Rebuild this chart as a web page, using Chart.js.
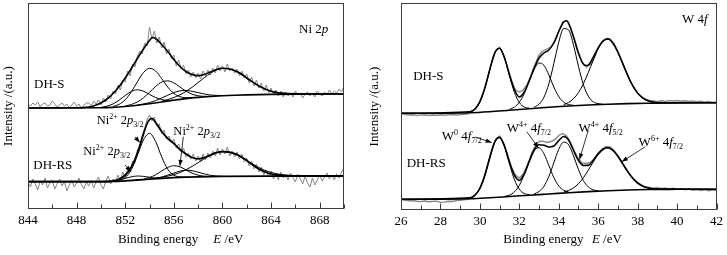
<!DOCTYPE html>
<html><head><meta charset="utf-8">
<script src="https://cdn.jsdelivr.net/npm/chart.js@4.4.1/dist/chart.umd.min.js"></script>
<style>
html,body{margin:0;padding:0;background:#fff;}
#p1{position:absolute;left:0;top:0;}
#p2{position:absolute;left:360px;top:0;}
</style></head><body>
<canvas id="p1" width="360" height="255"></canvas>
<canvas id="p2" width="367" height="255"></canvas>
<script>
const FONT = '"Liberation Serif", "Times New Roman", serif';

// ================= Ni 2p panel (x: binding energy / eV, y: intensity a.u.) =================
const niXMin = 844, niXMax = 870, niXStep = 4;
const niRawStart = 844, niRawStep = 0.2;
const niS_raw = [105,103,106,104,107,102,105,106,103,104,108,105,102,104,106,103,105,101,104,107,103,105,100,104,106,
 106,103,108,105,109,104,111,107,114,110,118,115,124,119,129,127,138,133,145,142,153,
 158,155,166,163,182,170,178,166,172,161,167,155,160,150,154,143,149,140,144,135,
 139,132,137,131,136,130,138,133,139,134,141,136,144,138,143,137,145,138,141,136,
 140,133,138,131,135,126,132,123,129,121,126,118,124,116,121,114,119,113,118,112,
 117,113,116,112,118,114,116,111,115,117,113,116,112,118,115,113,117,114,119,115,118,116,120,117,123];
const niRS_raw = [27,22,30,25,19,28,24,31,21,26,29,20,25,30,23,27,18,24,29,22,26,31,24,20,27,
 23,29,21,27,32,24,20,28,33,25,30,27,34,28,37,31,40,37,48,46,59,
 62,74,80,90,94,88,92,83,85,75,79,70,73,66,70,61,65,57,61,52,
 56,50,55,48,53,47,55,49,56,51,58,53,61,54,60,55,62,53,58,52,
 57,50,55,47,51,43,48,40,45,37,42,34,39,32,38,30,36,29,37,31,
 34,29,36,31,27,35,30,25,33,26,22,31,24,29,34,28,32,36,30,34,29,35,31,37,41];

const niS_base = [[844,101],[850,101.2],[851,101.6],[852,102.5],[853,103.8],[854,105.3],[855,107],[856,108.8],[857,110.4],[858,111.6],[859,112.5],[860,113.2],[861,113.7],[862,114.1],[864,114.6],[866,114.9],[870,115]];
const niS_env = [[844,101],[848,101.2],[849,102],[849.5,103.5],[850,106],[850.5,110],[851,115.5],[851.5,122.5],[852,131],[852.5,140.5],[853,150.5],[853.5,160],[854,168.5],[854.25,171.5],[854.5,170.5],[855,164.5],[855.5,157.5],[856,149.5],[856.5,142.5],[857,137.5],[857.5,134.5],[858,133.3],[858.5,134.5],[859,137],[859.5,139.5],[860,140.7],[860.5,140.3],[861,138.5],[861.5,135.5],[862,131],[862.5,126.8],[863,123],[863.5,120],[864,117.8],[864.5,116.4],[865,115.7],[866,115.2],[870,115]];
const niS_c1 = [[850,101.7],[850.5,102.8],[851,105.1],[851.5,108.9],[852,113.5],[852.5,117.5],[853,119.2],[853.5,117.8],[854,114.6],[854.5,111.4],[855,109.5],[855.5,108.6],[856,109]];
const niS_c2 = [[851,102.5],[851.5,104.7],[852,109.3],[852.5,117.1],[853,127.2],[853.5,136.4],[854,140.7],[854.5,138],[855,130.4],[855.5,121.9],[856,115.6],[856.5,112.3],[857,111.3],[857.5,111.3]];
const niS_c3 = [[852,103],[852.5,104.5],[853,107.1],[853.5,111.2],[854,116.7],[854.5,122.5],[855,126.9],[855.5,128.1],[856,126.1],[856.5,122],[857,117.9],[857.5,114.8],[858,113.2],[858.5,112.7],[859,112.7]];
const niS_c4 = [[853,104],[853.5,105],[854,106.4],[854.5,108.4],[855,111],[855.5,113.8],[856,116.4],[856.5,118.1],[857,118.5],[857.5,117.7],[858,116.4],[858.5,115],[859,114],[859.5,113.6],[860,113.5]];
const niS_c5 = [[855,107.7],[855.5,109.4],[856,111.5],[856.5,114.1],[857,117.6],[857.5,121.7],[858,126.5],[858.5,131.3],[859,135.7],[859.5,139],[860,140.6],[860.5,140.3],[861,138.2],[861.5,134.8],[862,130.7],[862.5,126.6],[863,123],[863.5,120.1],[864,117.9],[864.5,116.6],[865,115.8],[865.5,115.3],[866,115.1]];

const niRS_base = [[844,27.3],[850,27.4],[851,27.6],[852,28.2],[853,29],[854,29.9],[855,30.7],[856,31.3],[857,31.8],[858,32.2],[860,32.6],[864,32.9],[870,33]];
const niRS_env = [[844,27.3],[850,27.4],[851,28],[851.5,30],[852,34],[852.5,42],[853,56],[853.5,75],[853.75,84],[854,89.5],[854.2,90.7],[854.5,86.5],[855,77.5],[855.5,70.5],[856,65.5],[856.5,59.5],[857,55],[857.5,51.5],[858,50.2],[858.5,51.5],[859,54],[859.5,56.3],[860,57.3],[860.5,57],[861,55.3],[861.5,52.5],[862,48.5],[862.5,44],[863,40],[863.5,37],[864,35],[864.5,34],[865,33.5],[866,33.2],[870,33]];
const niRS_c1 = [[851,28],[851.5,29.1],[852,30.6],[852.5,32.2],[853,33],[853.5,32.6],[854,31.8],[854.5,31.1],[855,31]];
const niRS_c2 = [[851.5,28.6],[852,31.5],[852.5,39.3],[853,53.5],[853.5,69.2],[854,75.7],[854.5,67.5],[855,52.1],[855.5,39.7],[856,33.8],[856.5,32.1],[857,31.8]];
const niRS_c3 = [[853.5,29.9],[854,31.5],[854.5,34.2],[855,38],[855.5,41.6],[856,43.3],[856.5,42.2],[857,39.1],[857.5,35.9],[858,33.8],[858.5,32.8],[859,32.4]];
const niRS_c4 = [[854.5,30.8],[855,32],[855.5,33.8],[856,35.9],[856.5,37.9],[857,38.8],[857.5,38.3],[858,36.8],[858.5,35.1],[859,33.7],[859.5,33],[860,32.7]];
const niRS_c5 = [[854.5,30.8],[855,31.7],[855.5,32.8],[856,34.3],[856.5,36.5],[857,39.2],[857.5,42.6],[858,46.4],[858.5,50.2],[859,53.6],[859.5,56.1],[860,57.3],[860.5,56.8],[861,55],[861.5,52],[862,48.4],[862.5,44.8],[863,41.4],[863.5,38.6],[864,36.6],[864.5,35.1],[865,34.1],[865.5,33.5],[866,33.2]];

// ================= W 4f panel =================
const wXMin = 26, wXMax = 42, wXStep = 2;
const wRawStart = 26, wRawStep = 0.2;
const wS_raw = [96.5,95.5,95,95.3,94.6,94.9,95.2,94.5,95,94.8,95.3,94.7,95.1,95.5,95,95.4,95.8,96.3,98.5,101.5,
 109,119.5,133,147.5,159,162.5,155,143,130,120,
 118,120,125.5,135,145.5,155,159,161,163,169,
 179,188,189.5,182,170.5,158,147,143,145.5,152,
 162.5,168.5,171.5,171,166.5,158.5,149,139.5,130.5,122.5,
 117,113.5,111,109.5,109,108.5,109.2,108.6,109.4,108.8,109.5,108.7,109.3,108.5,109.1,108.2,108.8,107.9,108.5,107.6,108];
const wRS_raw = [10.5,9.8,9.2,9.5,8.8,8.4,9,8.2,8.6,8.9,7.6,7.9,8.7,8.5,9.4,9.8,10.2,10.8,12.6,15.5,
 22,32,45.5,59.5,70.5,74,67,55.5,43,35,
 32,36,44.5,55,64,68.5,68.8,67.5,68.5,70.2,
 74.5,76.5,74,67,58.5,51,47,46.5,47.5,51.5,
 57,61,63.5,63,59.5,54,48,41.5,35.5,31,
 27.5,25,23,22.5,21.8,22.3,21.5,22,21,21.7,20.6,21.4,20.2,20.9,19.8,20.5,19.4,20.3,19.2,20,19.6];

const wS_base = [[26,96.7],[29.5,97.3],[30.5,98.3],[31.5,99.8],[32.5,101.3],[33.5,102.7],[34.5,104],[35.5,105],[36.5,105.8],[37.5,106.4],[38.5,106.8],[40,107.1],[42,107.3]];
const wS_env = [[26,96.7],[29.5,98.2],[29.75,101],[30,108.1],[30.25,121.6],[30.5,140.3],[30.75,156.9],[31,161.7],[31.25,152.2],[31.5,135],[31.75,120.4],[32,113],[32.25,118],[32.5,129.1],[32.75,141.6],[33,152],[33.25,157],[33.5,160],[33.75,167],[34,178.5],[34.25,188],[34.4,189.3],[34.5,187],[34.75,173],[35,156.5],[35.25,146],[35.4,144.5],[35.5,145],[35.75,152.9],[36,162.1],[36.25,169],[36.5,171],[36.75,166.8],[37,157.7],[37.25,146.1],[37.5,134.3],[37.75,124.3],[38,116.9],[38.25,112.1],[38.5,109.4],[38.75,108],[39,107.3],[42,107.3]];
const wS_c1 = [[29.5,98.2],[29.75,101],[30,108.1],[30.25,121.6],[30.5,140.3],[30.75,156.9],[31,161.7],[31.25,152],[31.5,134.2],[31.75,117.7],[32,107.5],[32.25,103],[32.5,101.8]];
const wS_c2 = [[31.5,100.6],[31.75,102.9],[32,107.8],[32.25,116.4],[32.5,128.6],[32.75,140.5],[33,147],[33.25,144.6],[33.5,135],[33.75,123],[34,113.5],[34.25,107.8],[34.5,105.4],[34.75,104.7]];
const wS_c3 = [[32.75,102.7],[33,105.8],[33.25,112.8],[33.5,126.4],[33.75,146.4],[34,167.8],[34.25,181.4],[34.5,180.1],[34.75,164.8],[35,143.6],[35.25,125.3],[35.5,113.8],[35.75,108.2],[36,106.3],[36.25,105.8]];
const wS_c4 = [[34.25,105.3],[34.5,107.5],[34.75,111.3],[35,117.4],[35.25,126.3],[35.5,137.6],[35.75,149.9],[36,161.2],[36.25,168.8],[36.5,171],[36.75,166.8],[37,157.7],[37.25,146.1],[37.5,134.3],[37.75,124.3],[38,116.9],[38.25,112.1],[38.5,109.4],[38.75,108],[39,107.3]];

const wRS_base = [[26,10.7],[29.5,11.2],[30.5,12.2],[31.5,13.5],[32.5,14.8],[33.5,16],[34.5,17.3],[35.5,18.4],[36.5,19.3],[37.5,20],[38.5,20.5],[40,20.7],[42,20.8]];
const wRS_env = [[26,10.7],[29.5,12.1],[29.75,14.9],[30,21.5],[30.25,34.5],[30.5,52.2],[30.75,67.9],[31,72.6],[31.25,63.7],[31.5,47.7],[31.75,34.8],[32,29.5],[32.25,36],[32.5,48.5],[32.75,60],[33,65.3],[33.25,64.8],[33.5,63],[33.75,64],[34,69.5],[34.25,73.5],[34.5,70],[34.75,59.5],[35,49.5],[35.25,44.5],[35.5,44.6],[35.75,49.6],[36,56.1],[36.25,60.8],[36.5,62.3],[36.75,59.6],[37,53.7],[37.25,46.1],[37.5,38.4],[37.75,31.8],[38,27],[38.25,24],[38.5,22.2],[38.75,21.2],[39,20.9],[42,20.8]];
const wRS_c1 = [[29.5,12.1],[29.75,14.9],[30,21.5],[30.25,34.5],[30.5,52.2],[30.75,67.9],[31,72.6],[31.25,63.3],[31.5,46.3],[31.75,30.5],[32,20.8],[32.25,16.5],[32.5,15.3]];
const wRS_c2 = [[31.25,13.6],[31.5,14.9],[31.75,18.1],[32,24.7],[32.25,35.3],[32.5,48.4],[32.75,59.1],[33,62.2],[33.25,56.2],[33.5,44.4],[33.75,32.5],[34,24.1],[34.25,19.7],[34.5,18.1]];
const wRS_c3 = [[32.75,16],[33,18.5],[33.25,23.8],[33.5,33.6],[33.75,47.2],[34,60.7],[34.25,67.9],[34.5,65.2],[34.75,54.2],[35,40.4],[35.25,29.5],[35.5,23.1],[35.75,20.1],[36,19.2]];
const wRS_c4 = [[34.25,17.9],[34.5,19.6],[34.75,22.2],[35,26.3],[35.25,32.3],[35.5,39.9],[35.75,48.1],[36,55.7],[36.25,60.8],[36.5,62.3],[36.75,59.6],[37,53.7],[37.25,46.1],[37.5,38.4],[37.75,31.8],[38,27],[38.25,24],[38.5,22.2],[38.75,21.2],[39,20.9]];

// ================= text labels =================
const niLabelParts = [['Ni','n'],['2+','sup'],[' 2','n'],['p','i'],['3/2','sub']];
const niTexts = [
  {e:866.3, v:176.5, parts:[['Ni 2','n'],['p','i']]},
  {e:844.5, v:120.7, parts:[['DH-S','n']]},
  {e:844.44, v:39.7, parts:[['DH-RS','n']]},
  {e:849.65, v:85, parts:niLabelParts, small:true},
  {e:848.55, v:54, parts:niLabelParts, small:true},
  {e:855.96, v:74, parts:niLabelParts, small:true}
];
const niArrows = [[852.8,72,853.2,66.5],[851.98,44,852.48,37.3],[856.78,72.3,856.5,43]];
const wTexts = [
  {e:40.25, v:186.7, parts:[['W 4','n'],['f','i']]},
  {e:26.62, v:130, parts:[['DH-S','n']]},
  {e:26.29, v:43.3, parts:[['DH-RS','n']]},
  {e:28.07, v:70, parts:[['W','n'],['0','sup'],[' 4','n'],['f','i'],['7/2','sub']]},
  {e:31.36, v:78.3, parts:[['W','n'],['4+','sup'],[' 4','n'],['f','i'],['7/2','sub']]},
  {e:35.0, v:77.7, parts:[['W','n'],['4+','sup'],[' 4','n'],['f','i'],['5/2','sub']]},
  {e:38.05, v:64.3, parts:[['W','n'],['6+','sup'],[' 4','n'],['f','i'],['7/2','sub']]}
];
const wArrows = [[29.76,73,30.6,67.5],[32.38,78.3,32.97,62],[35.5,80,35.05,50.5],[38.39,63.3,37.2,48.3]];
const yTitle = 'Intensity /(a.u.)';

// ================= helpers =================
const P = a => a.map(p => ({x:p[0], y:p[1]}));
const RAW = (start, step, vals) => vals.map((v,i) => ({x:+(start + i*step).toFixed(3), y:v}));

function drawRich(ctx, x, y, parts, size) {
  let cx = x;
  const s = size, ss = Math.round(size*0.6);
  ctx.textAlign = 'left'; ctx.textBaseline = 'alphabetic'; ctx.fillStyle = '#000';
  for (const [t, st] of parts) {
    let f = s + 'px ' + FONT, dy = 0;
    if (st === 'i') f = 'italic ' + s + 'px ' + FONT;
    if (st === 'sup') { f = ss + 'px ' + FONT; dy = -Math.round(s*0.42); }
    if (st === 'sub') { f = ss + 'px ' + FONT; dy = Math.round(s*0.25); }
    ctx.font = f;
    ctx.fillText(t, cx, y + dy);
    cx += ctx.measureText(t).width;
  }
}
function drawArrow(ctx, x1, y1, x2, y2) {
  ctx.strokeStyle = '#000'; ctx.fillStyle = '#000'; ctx.lineWidth = 0.8;
  ctx.beginPath(); ctx.moveTo(x1, y1); ctx.lineTo(x2, y2); ctx.stroke();
  const ang = Math.atan2(y2 - y1, x2 - x1), L = 6, W = 2.2;
  ctx.beginPath();
  ctx.moveTo(x2, y2);
  ctx.lineTo(x2 - L*Math.cos(ang) + W*Math.sin(ang), y2 - L*Math.sin(ang) - W*Math.cos(ang));
  ctx.lineTo(x2 - L*Math.cos(ang) - W*Math.sin(ang), y2 - L*Math.sin(ang) + W*Math.cos(ang));
  ctx.closePath(); ctx.fill();
}

const frameTicks = {
  id: 'frameTicks',
  afterDatasetsDraw(chart, args, o) {
    const {ctx, chartArea: a, scales: {x}} = chart;
    ctx.save();
    ctx.strokeStyle = '#3c3c3c'; ctx.lineWidth = 1;
    const L = Math.round(a.left) + 0.5, R = Math.round(a.right) - 0.5, T = Math.round(a.top) + 0.5, B = Math.round(a.bottom) - 0.5;
    ctx.strokeRect(L, T, R - L, B - T);
    const n = Math.round((x.max - x.min) / o.minor);
    for (let i = 0; i <= n; i++) {
      const v = x.min + i * o.minor;
      const px = Math.round(x.getPixelForValue(v)) + 0.5;
      const major = Math.abs(v / o.major - Math.round(v / o.major)) < 1e-6;
      ctx.beginPath(); ctx.moveTo(px, B); ctx.lineTo(px, B - (major ? 6 : 4)); ctx.stroke();
    }
    ctx.restore();
  }
};
const annot = {
  id: 'annot',
  afterDraw(chart, args, o) {
    const {ctx, chartArea: a, scales: {x, y}} = chart;
    ctx.save();
    for (const t of o.texts) drawRich(ctx, x.getPixelForValue(t.e), y.getPixelForValue(t.v), t.parts, t.small ? 12.5 : 13);
    for (const r of o.arrows) drawArrow(ctx, x.getPixelForValue(r[0]), y.getPixelForValue(r[1]), x.getPixelForValue(r[2]), y.getPixelForValue(r[3]));
    const by = a.bottom + o.titleDy;
    drawRich(ctx, x.getPixelForValue(o.titleE1), by, [['Binding energy','n']], 13);
    drawRich(ctx, x.getPixelForValue(o.titleE2), by, [['E','i'],[' /eV','n']], 13);
    ctx.restore();
  }
};

function line(data, color, width, smooth) {
  return {data, borderColor: color, borderWidth: width, pointRadius: 0, fill: false,
          tension: 0, cubicInterpolationMode: smooth ? 'monotone' : 'default'};
}

function makeChart(id, c) {
  return new Chart(document.getElementById(id), {
    type: 'line',
    data: { datasets: c.datasets },
    options: {
      responsive: false, animation: false, devicePixelRatio: 1, events: [],
      layout: { padding: c.pad },
      plugins: { legend: {display:false}, tooltip: {enabled:false},
        frameTicks: { major: c.major, minor: c.minor },
        annot: { texts: c.texts, arrows: c.arrows, titleDy: c.titleDy, titleE1: c.titleE1, titleE2: c.titleE2 } },
      scales: {
        x: { type:'linear', min:c.xmin, max:c.xmax,
             ticks:{ stepSize:c.major, includeBounds:false, autoSkip:false, maxRotation:0, padding:4,
                     color:'#000', font:{family:FONT, size:13} },
             grid:{display:false, drawTicks:false}, border:{display:false} },
        y: { type:'linear', min:0, max:c.ymax,
             ticks:{display:false}, grid:{display:false, drawTicks:false}, border:{display:false},
             title:{display:true, text:yTitle, color:'#000', font:{family:FONT, size:13}, padding:c.ytPad} }
      }
    },
    plugins: [frameTicks, annot]
  });
}

const K = '#000', G = '#858585';
makeChart('p1', {
  xmin: niXMin, xmax: niXMax, major: niXStep, minor: niXStep/2, ymax: 206,
  pad: {left:0, right:16, top:3, bottom:22.4}, ytPad: {top:1, bottom:11.4},
  titleDy: 34, titleE1: 851.4, titleE2: 859.25,
  texts: niTexts, arrows: niArrows,
  datasets: [
    line(P(niS_env), K, 1.6, true), line(P(niRS_env), K, 1.8, true),
    line(P(niS_base), K, 1.6, true), line(P(niRS_base), K, 1.8, true),
    line(P(niS_c1), K, 1, true), line(P(niS_c2), K, 1, true), line(P(niS_c3), K, 1, true),
    line(P(niS_c4), K, 1, true), line(P(niS_c5), K, 1, true),
    line(P(niRS_c1), K, 1, true), line(P(niRS_c2), K, 1, true), line(P(niRS_c3), K, 1, true),
    line(P(niRS_c4), K, 1, true), line(P(niRS_c5), K, 1, true),
    line(RAW(niRawStart, niRawStep, niS_raw), G, 1, false),
    line(RAW(niRawStart, niRawStep, niRS_raw), G, 1, false)
  ]
});
makeChart('p2', {
  xmin: wXMin, xmax: wXMax, major: wXStep, minor: wXStep/2, ymax: 207,
  pad: {left:0, right:3.8, top:3, bottom:21.4}, ytPad: {top:7.2, bottom:18.2},
  titleDy: 33, titleE1: 31.19, titleE2: 35.68,
  texts: wTexts, arrows: wArrows,
  datasets: [
    line(P(wS_env), K, 1.5, true), line(P(wRS_env), K, 1.6, true),
    line(P(wS_base), K, 1.6, true), line(P(wRS_base), K, 1.6, true),
    line(P(wS_c1), K, 1, true), line(P(wS_c2), K, 1, true), line(P(wS_c3), K, 1, true), line(P(wS_c4), K, 1, true),
    line(P(wRS_c1), K, 1, true), line(P(wRS_c2), K, 1, true), line(P(wRS_c3), K, 1, true), line(P(wRS_c4), K, 1, true),
    line(RAW(wRawStart, wRawStep, wS_raw), G, 1.4, false),
    line(RAW(wRawStart, wRawStep, wRS_raw), G, 1.4, false)
  ]
});
</script></body></html>
